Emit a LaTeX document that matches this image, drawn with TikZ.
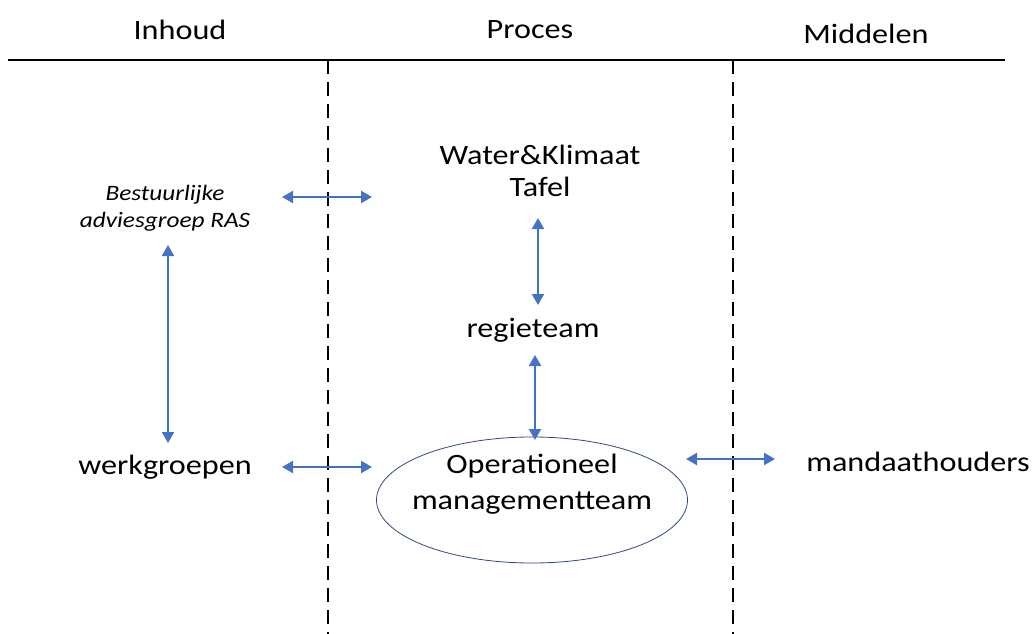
\documentclass[tikz,border=0pt]{standalone}
\usepackage{fontspec}
\setmainfont{Carlito}[FakeStretch=1.15]
\usetikzlibrary{arrows.meta,shapes.geometric}
\definecolor{arrblue}{HTML}{4472C4}
\definecolor{ellcol}{HTML}{2F4A7A}
\begin{document}
\begin{tikzpicture}[x=1pt,y=-1pt,
  lbl/.style={font=\fontsize{28}{32}\selectfont, align=center, inner sep=0pt},
  head/.style={font=\fontsize{28}{32}\selectfont, inner sep=0pt},
  ital/.style={font=\fontsize{22}{27}\selectfont\itshape, align=center, inner sep=0pt},
  conn/.style={arrblue, line width=2.2pt, {Triangle[width=12pt,length=11pt]}-{Triangle[width=12pt,length=11pt]}},
  divider/.style={line width=2pt, dash pattern=on 14pt off 8pt}]
\useasboundingbox (0,0) rectangle (1034,634);
% headings
\node[head] (hInhoud) at (180,30) {Inhoud};
\node[head] (hProces) at (530,30) {Proces};
\node[head] (hMiddelen) at (866,34) {Middelen};
% top rule and dividers
\coordinate (ruleL) at (8,60);
\coordinate (ruleR) at (1005,60);
\draw[line width=1.5pt] (ruleL) -- (ruleR);
\coordinate (d1t) at (328,60);
\coordinate (d1b) at (328,634);
\coordinate (d2t) at (733,60);
\coordinate (d2b) at (733,634);
\draw[divider] (d1t) -- (d1b);
\draw[divider] (d2t) -- (d2b);
% nodes
\node[lbl] (wkt) at (540,171) {Water\&Klimaat\\Tafel};
\node[ital] (bag) at (165,208) {Bestuurlijke\\adviesgroep RAS};
\node[lbl] (regie) at (533,330) {regieteam};
\node[lbl] (werk) at (165,467) {werkgroepen};
\node[draw=ellcol, line width=0.8pt, ellipse, minimum width=311pt, minimum height=126pt] (omt) at (532,500) {};
\node[lbl, font=\fontsize{28}{36}\selectfont] (omtt) at (532,484) {Operationeel\\managementteam};
\node[lbl] (mandaat) at (918,462) {mandaathouders};
% arrow end points
\coordinate (a1l) at (282,197);
\coordinate (a1r) at (372,197);
\coordinate (a2t) at (538,218);
\coordinate (a2b) at (538,305);
\coordinate (a3t) at (535,355);
\coordinate (a3b) at (535,440);
\coordinate (a4t) at (168,245);
\coordinate (a4b) at (168,443);
\coordinate (a5l) at (282,467);
\coordinate (a5r) at (372,467);
\coordinate (a6l) at (686,459);
\coordinate (a6r) at (775,459);
\draw[conn] (a1l) -- (a1r);
\draw[conn] (a2t) -- (a2b);
\draw[conn] (a3t) -- (a3b);
\draw[conn] (a4t) -- (a4b);
\draw[conn] (a5l) -- (a5r);
\draw[conn] (a6l) -- (a6r);
\end{tikzpicture}
\end{document}
